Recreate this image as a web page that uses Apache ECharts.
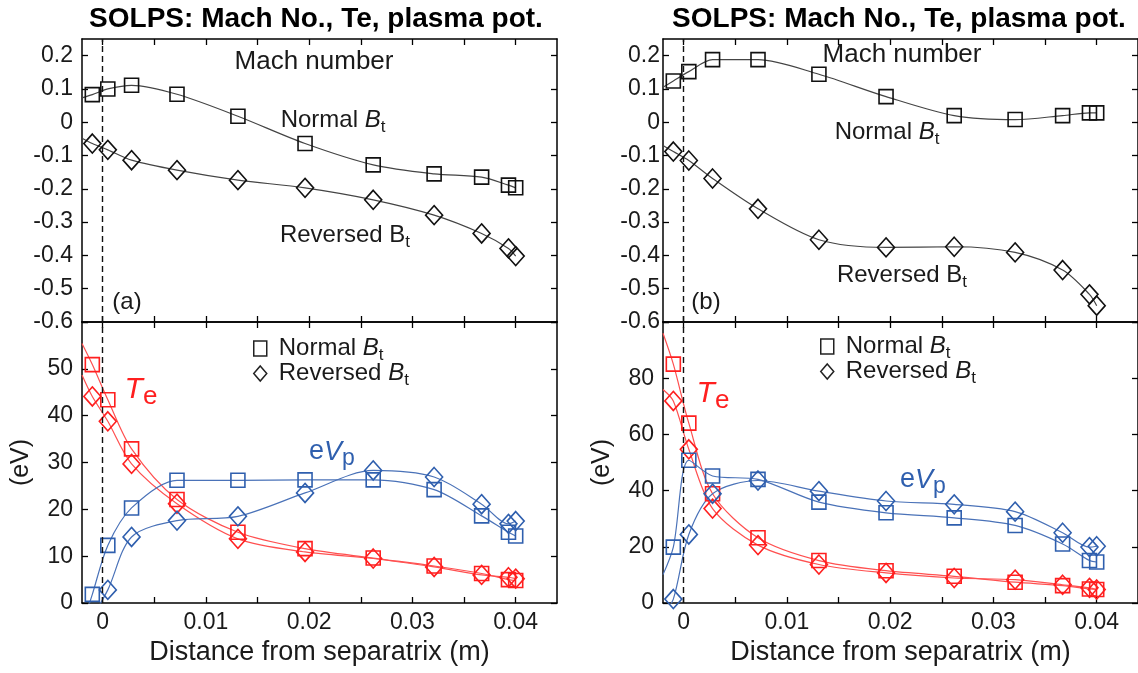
<!DOCTYPE html>
<html>
<head>
<meta charset="utf-8">
<script src="https://cdn.jsdelivr.net/npm/echarts@6/dist/echarts.min.js"></script>
<style>html,body{margin:0;padding:0;background:#fff;}#chart{width:1138px;height:673px;}</style>
</head>
<body>
<div id="chart"></div>
<script>
// ---------------- data ----------------
const xPositions = [-0.001, 0.0005, 0.0028, 0.0072, 0.0131, 0.0196, 0.0262, 0.0321, 0.0367, 0.0393, 0.0400];
const extrapolatedStartX = -0.002;

// (a) Mach number
const machNormalA   = [0.083, 0.100, 0.111, 0.084, 0.018, -0.064, -0.128, -0.155, -0.165, -0.189, -0.197];
const machReversedA = [-0.064, -0.083, -0.114, -0.144, -0.174, -0.197, -0.233, -0.279, -0.334, -0.379, -0.402];
// (b) Mach number
const machNormalB   = [0.124, 0.152, 0.188, 0.188, 0.144, 0.077, 0.020, 0.008, 0.020, 0.028, 0.028];
const machReversedB = [-0.088, -0.115, -0.169, -0.260, -0.353, -0.376, -0.374, -0.391, -0.444, -0.517, -0.551];
// (a) Te and eVp (eV)
const teNormalA   = [50.9, 43.4, 32.9, 22.1, 15.1, 11.6, 9.6, 7.9, 6.3, 5.0, 4.8];
const teReversedA = [44.1, 38.8, 29.7, 21.2, 13.7, 10.9, 9.5, 7.7, 6.0, 5.5, 5.2];
const vpNormalA   = [1.85, 12.3, 20.3, 26.2, 26.2, 26.3, 26.3, 24.2, 18.6, 15.1, 14.3];
const vpReversedA = [-3.0, 2.8, 14.1, 17.6, 18.5, 23.5, 28.3, 26.9, 21.1, 16.9, 17.5];
// (b) Te and eVp (eV)
const teNormalB   = [85.0, 64.0, 38.9, 23.2, 15.1, 11.5, 9.5, 7.4, 6.2, 5.0, 4.8];
const teReversedB = [71.9, 54.7, 33.6, 20.6, 13.7, 10.7, 8.9, 8.3, 6.5, 5.4, 4.8];
const vpNormalB   = [19.9, 50.8, 45.2, 44.0, 35.9, 32.1, 30.3, 27.6, 21.0, 15.1, 14.6];
const vpReversedB = [1.4, 24.4, 38.9, 43.6, 39.8, 36.3, 35.1, 32.5, 25.0, 19.9, 20.2];

// line values at the left plot edge (curves continue to the frame)
const machStartA = [0.073, -0.048];          // normal, reversed
const machStartB = [0.105, -0.070];
const eVStartA   = [55.4, 48.7, -5, null];   // Te normal, Te reversed, Vp normal, Vp reversed
const eVStartB   = [96, 76, 10.1, -4];

// ticks
const xTicks  = [0, 0.005, 0.01, 0.015, 0.02, 0.025, 0.03, 0.035, 0.04];
const xLabels = [0, 0.01, 0.02, 0.03, 0.04];
const machTicks = [-0.6, -0.5, -0.4, -0.3, -0.2, -0.1, 0, 0.1, 0.2];
const eVTicksA  = [0, 10, 20, 30, 40, 50, 60];
const eVLabelsA = [0, 10, 20, 30, 40, 50];
const eVTicksB  = [0, 20, 40, 60, 80, 100];
const eVLabelsB = [0, 20, 40, 60, 80];

// ---------------- styling ----------------
const FONT = '"Liberation Sans", Arial, Helvetica, sans-serif';
const RED = '#ff1f1f', BLUE = '#2f5fae', BLACK = '#1a1a1a';
const LEG_NORMAL = 'Normal Bt', LEG_REV = 'Reversed Bt';

const grids = [
  {left: 82,  top: 39,  width: 475, height: 283},
  {left: 82,  top: 322, width: 475, height: 281},
  {left: 663, top: 39,  width: 479, height: 283},
  {left: 663, top: 322, width: 479, height: 281}
];

const axisLine = {show: true, onZero: false, lineStyle: {color: '#000', width: 1.5}};
function tickStyle(vals) {
  return {show: true, inside: true, length: 6, customValues: vals, lineStyle: {color: '#000', width: 1.3}};
}
const xAxes = [], yAxes = [];
grids.forEach((g, gi) => {
  const isBottom = gi % 2 === 1;
  ['bottom', 'top'].forEach(pos => {
    const showLab = isBottom && pos === 'bottom';
    xAxes.push({
      type: 'value', gridIndex: gi, position: pos, min: -0.002, max: 0.044,
      axisLine, axisTick: tickStyle(xTicks), splitLine: {show: false},
      axisLabel: {show: showLab, customValues: xLabels, margin: 8, fontSize: 23, fontFamily: FONT, color: BLACK,
        formatter: v => (Math.round(v * 100) / 100).toString()},
      name: showLab ? 'Distance from separatrix (m)' : '', nameLocation: 'middle', nameGap: 36,
      nameTextStyle: {fontSize: 27, fontFamily: FONT, color: BLACK}
    });
  });
  const ticks = isBottom ? (gi === 1 ? eVTicksA : eVTicksB) : machTicks;
  const labels = isBottom ? (gi === 1 ? eVLabelsA : eVLabelsB) : machTicks;
  const ext = isBottom ? (gi === 1 ? [0, 60] : [0, 100]) : [-0.6, 0.25];
  ['left', 'right'].forEach(pos => {
    const showLab = pos === 'left';
    yAxes.push({
      type: 'value', gridIndex: gi, position: pos, min: ext[0], max: ext[1],
      axisLine, axisTick: tickStyle(ticks), splitLine: {show: false},
      axisLabel: {show: showLab, customValues: labels, margin: (gi === 2 ? 3 : 9), fontSize: 23, fontFamily: FONT, color: BLACK,
        formatter: v => (Math.round(v * 10) / 10).toString()},
      name: (showLab && isBottom) ? '(eV)' : '', nameLocation: 'middle', nameRotate: 90, nameGap: 48,
      nameTextStyle: {fontSize: 25, fontFamily: FONT, color: BLACK}
    });
  });
});

function mkSeries(name, gi, ys, startVal, symbol, color, lineColor, size) {
  const data = [];
  if (startVal !== null && startVal !== undefined) data.push({value: [extrapolatedStartX, startVal], symbol: 'none'});
  xPositions.forEach((x, i) => data.push([x, ys[i]]));
  return {
    type: 'line', name, xAxisIndex: 2 * gi, yAxisIndex: 2 * gi, data,
    smooth: 0.3, symbol, symbolSize: size, showSymbol: true, clip: true,
    lineStyle: {color: lineColor, width: 1.2},
    itemStyle: {color: 'rgba(0,0,0,0)', borderColor: color, borderWidth: 1.6},
    emphasis: {disabled: true}, z: 3
  };
}
const dashed = {
  silent: true, symbol: 'none', label: {show: false},
  lineStyle: {type: [6, 4], color: '#111', width: 1.4},
  data: [{xAxis: 0}]
};

const series = [
  mkSeries(LEG_NORMAL, 0, machNormalA, machStartA[0], 'rect', '#111', '#444', 14),
  mkSeries(LEG_REV,    0, machReversedA, machStartA[1], 'diamond', '#111', '#444', [17, 19]),
  mkSeries(LEG_NORMAL, 1, teNormalA, eVStartA[0], 'rect', RED, '#ff5050', 14),
  mkSeries(LEG_REV,    1, teReversedA, eVStartA[1], 'diamond', RED, '#ff5050', [17, 19]),
  mkSeries(LEG_NORMAL, 1, vpNormalA, eVStartA[2], 'rect', BLUE, '#4a72b8', 14),
  mkSeries(LEG_REV,    1, vpReversedA, eVStartA[3], 'diamond', BLUE, '#4a72b8', [17, 19]),
  mkSeries(LEG_NORMAL, 2, machNormalB, machStartB[0], 'rect', '#111', '#444', 14),
  mkSeries(LEG_REV,    2, machReversedB, machStartB[1], 'diamond', '#111', '#444', [17, 19]),
  mkSeries(LEG_NORMAL, 3, teNormalB, eVStartB[0], 'rect', RED, '#ff5050', 14),
  mkSeries(LEG_REV,    3, teReversedB, eVStartB[1], 'diamond', RED, '#ff5050', [17, 19]),
  mkSeries(LEG_NORMAL, 3, vpNormalB, eVStartB[2], 'rect', BLUE, '#4a72b8', 14),
  mkSeries(LEG_REV,    3, vpReversedB, eVStartB[3], 'diamond', BLUE, '#4a72b8', [17, 19])
];
series[0].markLine = dashed; series[2].markLine = dashed;
series[6].markLine = dashed; series[8].markLine = dashed;

function legendCfg(left, top) {
  return {
    left, top, padding: 0, orient: 'vertical', itemGap: -3, itemWidth: 13, itemHeight: 15, selectedMode: false,
    data: [{name: LEG_NORMAL, icon: 'rect'}, {name: LEG_REV, icon: 'diamond'}],
    itemStyle: {color: 'rgba(0,0,0,0)', borderColor: '#222', borderWidth: 1.5},
    formatter: n => n === LEG_NORMAL ? '{n|Normal }{i|B}{s|t}' : '{n|Reversed }{i|B}{s|t}',
    textStyle: {
      fontFamily: FONT, fontSize: 24, color: BLACK, lineHeight: 25, padding: [0, 0, 0, 7],
      rich: {
        n: {fontFamily: FONT, fontSize: 24, color: BLACK},
        i: {fontFamily: FONT, fontSize: 24, fontStyle: 'italic', color: BLACK},
        s: {fontFamily: FONT, fontSize: 17, color: BLACK, padding: [14, 0, 0, 0]}
      }
    }
  };
}

function txt(x, y, text, size, fill, extra) {
  return Object.assign({
    type: 'text', x, y, silent: true, z: 50,
    style: Object.assign({
      text, fill, font: (extra && extra.bold ? 'bold ' : '') + size + 'px ' + FONT,
      textAlign: 'center', textVerticalAlign: 'middle', align: 'center', verticalAlign: 'middle'
    }, extra && extra.rich ? {rich: extra.rich} : {})
  });
}
function richB(size, fill, italicB) {
  return {
    n: {fontSize: size, fontFamily: FONT, fill},
    i: {fontSize: size, fontFamily: FONT, fill, fontStyle: italicB ? 'italic' : 'normal'},
    s: {fontSize: Math.round(size * 0.7), fontFamily: FONT, fill, padding: [14, 0, 0, 0]}
  };
}
const TITLE = 'SOLPS: Mach No., Te, plasma pot.';
const graphics = [
  txt(316, 19, TITLE, 28, '#000', {bold: true}),
  txt(899, 19, TITLE, 28, '#000', {bold: true}),
  txt(314, 62, 'Mach number', 26, BLACK),
  txt(902, 55, 'Mach number', 26, BLACK),
  txt(333, 120, '{n|Normal }{i|B}{s|t}', 24, BLACK, {rich: richB(24, BLACK, true)}),
  txt(887, 132, '{n|Normal }{i|B}{s|t}', 24, BLACK, {rich: richB(24, BLACK, true)}),
  txt(345, 235, '{n|Reversed }{i|B}{s|t}', 24, BLACK, {rich: richB(24, BLACK, false)}),
  txt(902, 275, '{n|Reversed }{i|B}{s|t}', 24, BLACK, {rich: richB(24, BLACK, false)}),
  txt(127, 302, '(a)', 24, BLACK),
  txt(706, 302, '(b)', 24, BLACK),
  txt(141, 390, '{i|T}{s|e}', 28, RED, {rich: {
    i: {fontSize: 30, fontFamily: FONT, fill: RED, fontStyle: 'italic'},
    s: {fontSize: 26, fontFamily: FONT, fill: RED, padding: [14, 0, 0, 0]}}}),
  txt(713, 394, '{i|T}{s|e}', 28, RED, {rich: {
    i: {fontSize: 30, fontFamily: FONT, fill: RED, fontStyle: 'italic'},
    s: {fontSize: 26, fontFamily: FONT, fill: RED, padding: [14, 0, 0, 0]}}}),
  txt(332, 452, '{n|e}{i|V}{s|p}', 26, BLUE, {rich: {
    n: {fontSize: 27, fontFamily: FONT, fill: BLUE},
    i: {fontSize: 27, fontFamily: FONT, fill: BLUE, fontStyle: 'italic'},
    s: {fontSize: 23, fontFamily: FONT, fill: BLUE, padding: [14, 0, 0, 0]}}}),
  txt(923, 480, '{n|e}{i|V}{s|p}', 26, BLUE, {rich: {
    n: {fontSize: 27, fontFamily: FONT, fill: BLUE},
    i: {fontSize: 27, fontFamily: FONT, fill: BLUE, fontStyle: 'italic'},
    s: {fontSize: 23, fontFamily: FONT, fill: BLUE, padding: [14, 0, 0, 0]}}})
];

const chart = echarts.init(document.getElementById('chart'), null, {renderer: 'canvas'});
chart.setOption({
  animation: false,
  backgroundColor: '#fff',
  textStyle: {fontFamily: FONT},
  grid: grids,
  xAxis: xAxes,
  yAxis: yAxes,
  legend: [legendCfg(253, 336), legendCfg(820, 334)],
  series,
  graphic: graphics
});
</script>
</body>
</html>
